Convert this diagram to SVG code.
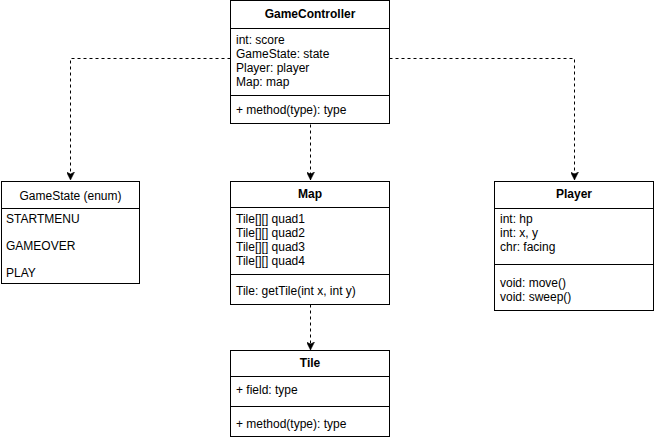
<svg xmlns="http://www.w3.org/2000/svg" width="655" height="440" viewBox="0 0 655 440">
  <style>
    .box { fill: #ffffff; stroke: #000000; stroke-width: 1; }
    .sep { stroke: #000000; stroke-width: 1; }
    text { font-family: "Liberation Sans", Arial, sans-serif; font-size: 12px; fill: #000000; }
    .title { font-weight: bold; text-anchor: middle; }
    .plain-title { text-anchor: middle; }
    .edge { fill: none; stroke: #000000; stroke-width: 1; stroke-dasharray: 3 3; }
  </style>
  <defs>
    <marker id="arrow" viewBox="0 0 8 8" refX="8" refY="4" markerWidth="8" markerHeight="8" markerUnits="userSpaceOnUse" orient="auto">
      <path d="M0,0 L8,4 L0,8 L2,4 Z" fill="#000000" stroke="#000000" stroke-width="0.5"/>
    </marker>
  </defs>

  <rect width="655" height="440" fill="#ffffff"/>

  <g id="connectors">
    <path class="edge" d="M230.5,58.5 H70.5 V180" marker-end="url(#arrow)"/>
    <path class="edge" d="M310.5,124.5 V180" marker-end="url(#arrow)"/>
    <path class="edge" d="M389.5,58.5 H574.5 V180" marker-end="url(#arrow)"/>
    <path class="edge" d="M310.5,304.5 V350" marker-end="url(#arrow)"/>
  </g>

  <g id="GameController">
    <rect class="box" x="230.5" y="0.5" width="159" height="123"/>
    <line class="sep" x1="230.5" y1="28.5" x2="389.5" y2="28.5"/>
    <line class="sep" x1="230.5" y1="95.5" x2="389.5" y2="95.5"/>
    <text class="title" x="310" y="18">GameController</text>
    <text x="236" y="44">int: score</text>
    <text x="236" y="58">GameState: state</text>
    <text x="236" y="72">Player: player</text>
    <text x="236" y="86">Map: map</text>
    <text x="236" y="114">+ method(type): type</text>
  </g>

  <g id="GameState">
    <rect class="box" x="1.5" y="181.5" width="138" height="102"/>
    <line class="sep" x1="1.5" y1="208.5" x2="139.5" y2="208.5"/>
    <text class="plain-title" x="70.5" y="200">GameState (enum)</text>
    <text x="6" y="223">STARTMENU</text>
    <text x="6" y="250">GAMEOVER</text>
    <text x="6" y="277">PLAY</text>
  </g>

  <g id="Map">
    <rect class="box" x="230.5" y="181.5" width="159" height="123"/>
    <line class="sep" x1="230.5" y1="207.5" x2="389.5" y2="207.5"/>
    <line class="sep" x1="230.5" y1="274.5" x2="389.5" y2="274.5"/>
    <text class="title" x="310" y="198">Map</text>
    <text x="236" y="223">Tile[][] quad1</text>
    <text x="236" y="237">Tile[][] quad2</text>
    <text x="236" y="251">Tile[][] quad3</text>
    <text x="236" y="265">Tile[][] quad4</text>
    <text x="236" y="295">Tile: getTile(int x, int y)</text>
  </g>

  <g id="Player">
    <rect class="box" x="494.5" y="181.5" width="159" height="129"/>
    <line class="sep" x1="494.5" y1="208.5" x2="653.5" y2="208.5"/>
    <line class="sep" x1="494.5" y1="264.5" x2="653.5" y2="264.5"/>
    <text class="title" x="574" y="198">Player</text>
    <text x="500" y="223">int: hp</text>
    <text x="500" y="237">int: x, y</text>
    <text x="500" y="251">chr: facing</text>
    <text x="500" y="287">void: move()</text>
    <text x="500" y="301">void: sweep()</text>
  </g>

  <g id="Tile">
    <rect class="box" x="230.5" y="350.5" width="159" height="86"/>
    <line class="sep" x1="230.5" y1="376.5" x2="389.5" y2="376.5"/>
    <line class="sep" x1="230.5" y1="406.5" x2="389.5" y2="406.5"/>
    <text class="title" x="310" y="367">Tile</text>
    <text x="236" y="394">+ field: type</text>
    <text x="236" y="428">+ method(type): type</text>
  </g>
</svg>
